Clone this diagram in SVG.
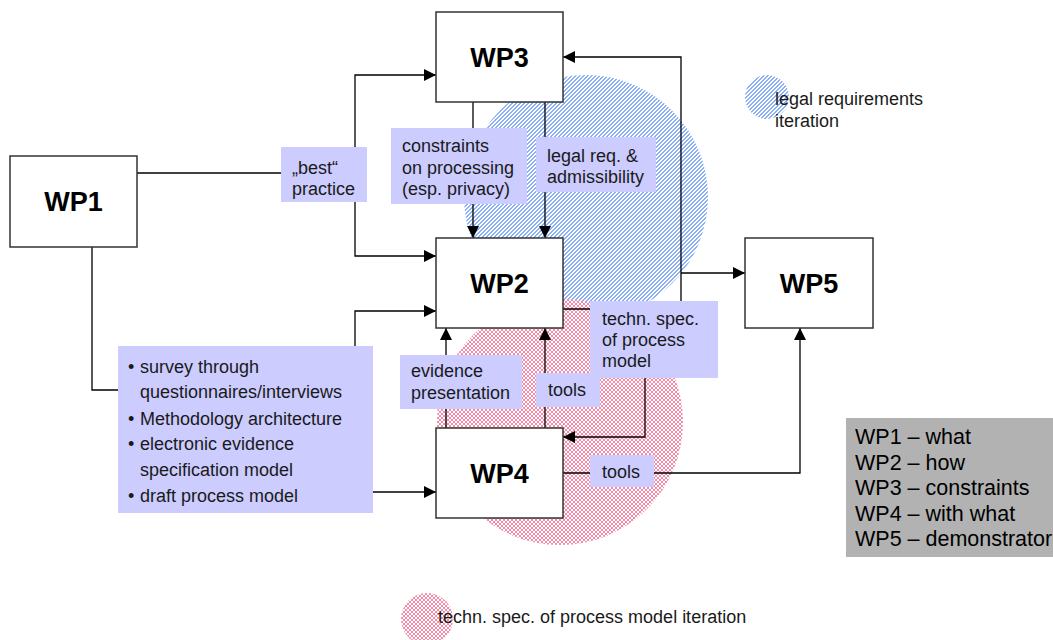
<svg xmlns="http://www.w3.org/2000/svg" width="1053" height="640" viewBox="0 0 1053 640">
<defs>
<pattern id="hatchBlue" x="0" y="0" width="4" height="4" patternUnits="userSpaceOnUse">
<rect width="4" height="4" fill="#ffffff"/>
<path d="M2,0h2v1h-2z M1,1h2v1h-2z M0,2h2v1h-2z M0,3h1v1h-1z M3,3h1v1h-1z" fill="#8cb0f7" shape-rendering="crispEdges"/>
</pattern>
<pattern id="hatchPink" x="0" y="0" width="4" height="4" patternUnits="userSpaceOnUse">
<rect width="4" height="4" fill="#ffffff"/>
<path d="M0,0h1v1h-1z M3,0h1v1h-1z M1,1h2v1h-2z M1,2h2v1h-2z M0,3h1v1h-1z M3,3h1v1h-1z" fill="#f28aa8" shape-rendering="crispEdges"/>
</pattern>
<marker id="arr" markerWidth="12" markerHeight="12" refX="12" refY="6" orient="auto" markerUnits="userSpaceOnUse">
<path d="M0,0 L12,6 L0,12 z" fill="#000"/>
</marker>
</defs>
<style>
.node rect{fill:#ffffff;stroke:#333333;stroke-width:1.5}
.node text{font-family:"Liberation Sans",Arial,sans-serif;font-weight:bold;font-size:27px;text-anchor:middle;fill:#000}
.conn path{fill:none;stroke:#000;stroke-width:1.3}
.arrow{marker-end:url(#arr)}
.lbl rect{fill:#ccccff}
.lbl text{font-family:"Liberation Sans",Arial,sans-serif;font-size:18px;fill:#1a1a1a}
.leg text{font-family:"Liberation Sans",Arial,sans-serif;font-size:18px;fill:#1a1a1a}
.key text{font-family:"Liberation Sans",Arial,sans-serif;font-size:21.5px;fill:#000}
</style>
<rect width="1053" height="640" fill="#ffffff"/>

<g id="iterations">
<circle cx="586" cy="197" r="122" fill="url(#hatchBlue)"/>
<circle cx="560" cy="422" r="123" fill="url(#hatchPink)"/>
</g>

<g class="conn" id="connectors">
<path d="M137,173 H355"/>
<path class="arrow" d="M355,173 V75 H436"/>
<path class="arrow" d="M355,173 V256 H436"/>
<path d="M92,247 V390 H118"/>
<path class="arrow" d="M355,346 V311 H436"/>
<path class="arrow" d="M373,492 H436"/>
<path class="arrow" d="M473,102 V238"/>
<path class="arrow" d="M545,102 V238"/>
<path class="arrow" d="M446,428 V328"/>
<path class="arrow" d="M545,428 V328"/>
<path class="arrow" d="M563,309 H681 V57 H563"/>
<path class="arrow" d="M681,273 H745"/>
<path class="arrow" d="M645,309 V437 H563"/>
<path class="arrow" d="M563,473 H800 V328"/>
</g>

<g id="WP1" class="node"><rect x="10" y="156" width="127" height="91"/><text x="73.5" y="211">WP1</text></g>
<g id="WP3" class="node"><rect x="436" y="12" width="127" height="90"/><text x="499.5" y="67">WP3</text></g>
<g id="WP2" class="node"><rect x="436" y="238" width="127" height="90"/><text x="499.5" y="293">WP2</text></g>
<g id="WP4" class="node"><rect x="436" y="428" width="127" height="90"/><text x="499.5" y="483">WP4</text></g>
<g id="WP5" class="node"><rect x="745" y="238" width="128" height="90"/><text x="809" y="293">WP5</text></g>

<g id="label-best" class="lbl"><rect x="281" y="147" width="86" height="55"/><text x="292" y="174">„best“</text><text x="292" y="195">practice</text></g>
<g id="label-constraints" class="lbl"><rect x="391" y="128" width="136" height="76"/><text x="402" y="152">constraints</text><text x="402" y="173.5">on processing</text><text x="402" y="195">(esp. privacy)</text></g>
<g id="label-legal" class="lbl"><rect x="536" y="137" width="120" height="55"/><text x="547" y="162">legal req. &amp;</text><text x="547" y="183">admissibility</text></g>
<g id="label-techn" class="lbl"><rect x="590" y="301" width="128" height="77"/><text x="602" y="325">techn. spec.</text><text x="602" y="346">of process</text><text x="602" y="367">model</text></g>
<g id="label-evidence" class="lbl"><rect x="400" y="355" width="122" height="54"/><text x="411" y="377">evidence</text><text x="411" y="399">presentation</text></g>
<g id="label-tools1" class="lbl"><rect x="536" y="373" width="64" height="34"/><text x="548" y="396">tools</text></g>
<g id="label-tools2" class="lbl"><rect x="590" y="455" width="64" height="32"/><text x="602" y="478">tools</text></g>
<g id="label-wp1out" class="lbl"><rect x="118" y="346" width="255" height="167"/>
<text x="128" y="373">•</text><text x="140" y="373">survey through</text>
<text x="140" y="398">questionnaires/interviews</text>
<text x="128" y="425">•</text><text x="140" y="425">Methodology architecture</text>
<text x="128" y="450">•</text><text x="140" y="450">electronic evidence</text>
<text x="140" y="476">specification model</text>
<text x="128" y="502">•</text><text x="140" y="502">draft process model</text>
</g>

<g id="legend-legal" class="leg"><circle cx="767" cy="97" r="22" fill="url(#hatchBlue)"/><text x="775" y="105">legal requirements</text><text x="775" y="127">iteration</text></g>
<g id="legend-techn" class="leg"><circle cx="427" cy="619" r="26" fill="url(#hatchPink)"/><text x="438" y="623">techn. spec. of process model iteration</text></g>

<g id="key" class="key"><rect x="846" y="418" width="207" height="139" fill="#b2b2b2"/>
<text x="855" y="444">WP1 – what</text>
<text x="855" y="469.5">WP2 – how</text>
<text x="855" y="495">WP3 – constraints</text>
<text x="855" y="520.5">WP4 – with what</text>
<text x="855" y="546">WP5 – demonstrator</text>
</g>
</svg>
